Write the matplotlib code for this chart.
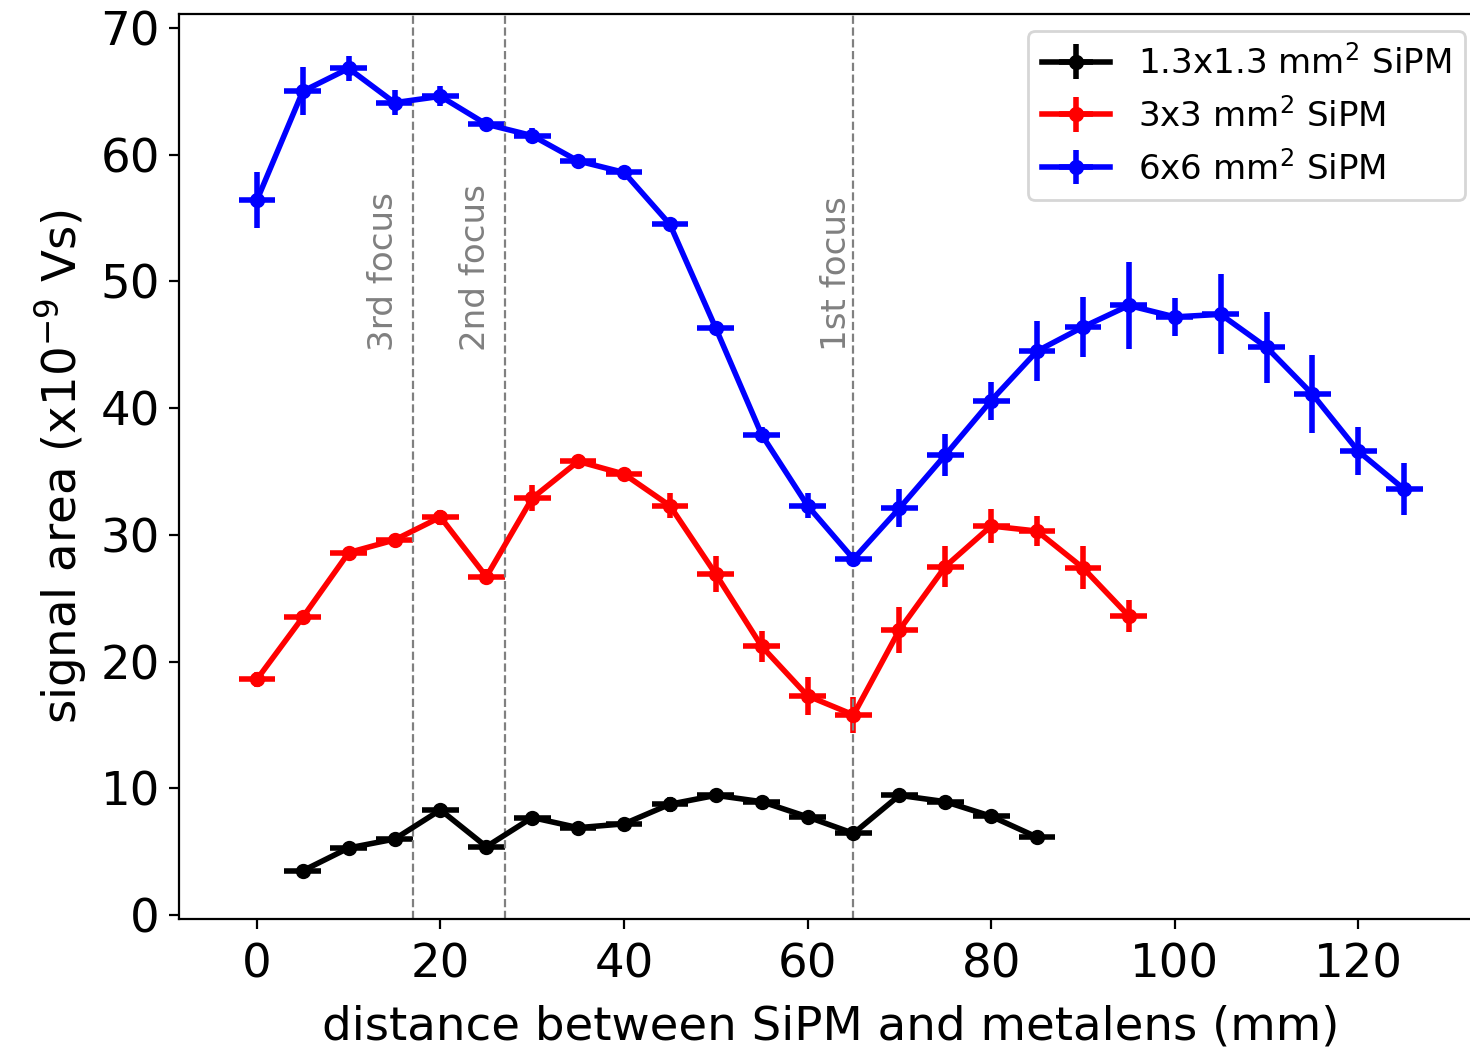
import matplotlib
matplotlib.use("Agg")
import matplotlib.pyplot as plt

# distances (mm)
x_small = [5, 10, 15, 20, 25, 30, 35, 40, 45, 50, 55, 60, 65, 70, 75, 80, 85]
x_mid = [0, 5, 10, 15, 20, 25, 30, 35, 40, 45, 50, 55, 60, 65, 70, 75, 80, 85, 90, 95]
x_big = [0, 5, 10, 15, 20, 25, 30, 35, 40, 45, 50, 55, 60, 65, 70, 75, 80, 85, 90,
         95, 100, 105, 110, 115, 120, 125]

# signal area (x1e-9 Vs)
y_small = [3.5, 5.3, 6.0, 8.3, 5.4, 7.7, 6.9, 7.2, 8.75, 9.45, 8.95, 7.75, 6.45,
           9.45, 8.95, 7.8, 6.15]
e_small = [0.2, 0.2, 0.2, 0.3, 0.2, 0.3, 0.2, 0.5, 0.6, 0.2, 0.3, 0.4, 0.5,
           0.3, 0.2, 0.3, 0.2]
y_mid = [18.6, 23.5, 28.6, 29.6, 31.4, 26.7, 32.9, 35.8, 34.8, 32.3, 26.9, 21.2,
         17.3, 15.8, 22.5, 27.5, 30.7, 30.3, 27.4, 23.6]
e_mid = [0.6, 0.2, 0.2, 0.3, 0.6, 0.6, 1.0, 0.3, 0.3, 1.0, 1.4, 1.2, 1.5, 1.4,
         1.8, 1.6, 1.35, 1.2, 1.7, 1.3]
y_big = [56.4, 65.0, 66.8, 64.1, 64.6, 62.4, 61.5, 59.5, 58.6, 54.5, 46.3, 37.9,
         32.3, 28.1, 32.1, 36.3, 40.6, 44.5, 46.4, 48.1, 47.2, 47.4, 44.8, 41.1,
         36.6, 33.6]
e_big = [2.2, 1.9, 1.0, 1.0, 0.8, 0.3, 0.6, 0.3, 0.3, 0.3, 0.3, 0.6, 1.0, 0.3,
         1.5, 1.65, 1.5, 2.35, 2.4, 3.45, 1.5, 3.15, 2.8, 3.1, 1.9, 2.05]
xerr = 2

foci = [17, 27, 65]
foci_labels = ["3rd focus", "2nd focus", "1st focus"]
foci_text_x = [13.8, 23.8, 63.2]

fig = plt.figure(figsize=(7.35, 5.245), dpi=200)
# the right spine sits just past the edge of the picture
ax = fig.add_axes([0.122, 0.124, 0.886, 0.8627])

ax.errorbar(x_small, y_small, yerr=e_small, xerr=xerr, color="black", marker="o",
            ms=4.5, lw=2, elinewidth=2, label="1.3x1.3 mm$^2$ SiPM")
ax.errorbar(x_mid, y_mid, yerr=e_mid, xerr=xerr, color="red", marker="o",
            ms=4.5, lw=2, elinewidth=2, label="3x3 mm$^2$ SiPM")
ax.errorbar(x_big, y_big, yerr=e_big, xerr=xerr, color="blue", marker="o",
            ms=4.5, lw=2, elinewidth=2, label="6x6 mm$^2$ SiPM")

for fx, lab, tx in zip(foci, foci_labels, foci_text_x):
    ax.axvline(fx, color="gray", ls="--", lw=0.8)
    ax.text(tx, 44.5, lab, rotation=90, color="gray", fontsize=12.3,
            ha="center", va="bottom")

ax.set_xlim(-8.45, 133.45)
ax.set_ylim(-0.3, 71.1)
ax.tick_params(labelsize=16.8)
ax.tick_params(axis="x", pad=5)
ax.set_xlabel("distance between SiPM and metalens (mm)", fontsize=16.8, labelpad=6)
ax.set_ylabel("signal area (x10$^{-9}$ Vs)", fontsize=16.8)
ax.legend(loc="upper right", fontsize=12.3)

fig.savefig("out.png", dpi=200)
